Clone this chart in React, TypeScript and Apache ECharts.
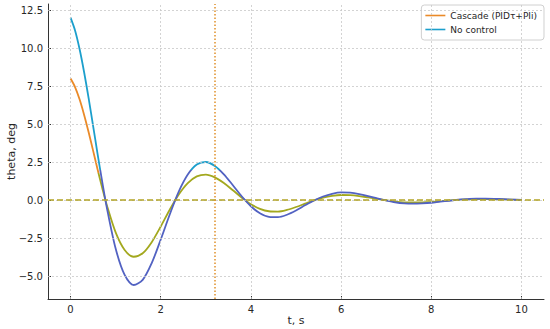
import React, { useEffect, useRef } from "react";
import * as echarts from "echarts";

// time axis (s)
const timeS = [
  0, 0.1, 0.2, 0.3, 0.4, 0.5, 0.6, 0.7, 0.8, 1.0, 1.2, 1.4, 1.6, 1.8, 2.0, 2.2, 2.4, 2.6, 2.8, 3.0, 3.2, 3.4, 3.6, 3.8,
  4.0, 4.2, 4.4, 4.6, 4.8, 5.0, 5.2, 5.4, 5.6, 5.8, 6.0, 6.2, 6.4, 6.6, 6.8, 7.0, 7.2, 7.4, 7.6, 7.8,
  8.0, 8.2, 8.4, 8.6, 8.8, 9.0, 9.2, 9.4, 9.6, 9.8, 10.0,
];

// theta, deg — Cascade (PIDτ+PIi)
const cascade = [
  8.0, 7.44, 6.63, 5.62, 4.48, 3.26, 2.02, 0.83, -0.28, -2.12, -3.28, -3.72, -3.49, -2.76, -1.73, -0.63, 0.37, 1.12, 1.56, 1.68, 1.5, 1.13, 0.65, 0.16,
  -0.27, -0.57, -0.73, -0.75, -0.64, -0.45, -0.23, -0.01, 0.16, 0.28, 0.34, 0.33, 0.27, 0.18, 0.08, -0.01, -0.09, -0.14, -0.15, -0.14,
  -0.11, -0.07, -0.02, 0.02, 0.05, 0.07, 0.07, 0.06, 0.05, 0.03, 0.01,
];

// theta, deg — No control
const noControl = [
  12.0, 11.16, 9.94, 8.43, 6.72, 4.89, 3.03, 1.25, -0.42, -3.18, -4.92, -5.58, -5.24, -4.14, -2.59, -0.94, 0.56, 1.68, 2.34, 2.51, 2.25, 1.7, 0.98, 0.24,
  -0.4, -0.86, -1.1, -1.12, -0.96, -0.68, -0.34, -0.02, 0.24, 0.42, 0.51, 0.49, 0.4, 0.27, 0.12, -0.02, -0.14, -0.21, -0.23, -0.21,
  -0.17, -0.1, -0.04, 0.03, 0.07, 0.1, 0.1, 0.09, 0.07, 0.04, 0.01,
];

const xTicks = [0, 2, 4, 6, 8, 10];
const yTicks = [-5, -2.5, 0, 2.5, 5, 7.5, 10, 12.5];
const zeroLevel = 0;
const markerTime = 3.2;

const seriesNames = ["Cascade (PIDτ+PIi)", "No control"];

const ORANGE = "#ea8a28";
const OLIVE = "#a3a81e";
const CYAN = "#1c9fcc";
const BLUE = "#5262c2";

export default function App() {
  const ref = useRef<HTMLDivElement>(null);

  useEffect(() => {
    if (!ref.current) return;
    const chart = echarts.init(ref.current, undefined, { renderer: "svg" });
    const fmt = (v: number) => v.toFixed(1).replace("-", "\u2212");
    const axisText = { fontFamily: "DejaVu Sans", fontSize: 10, color: "#262626" };
    const nameText = { fontFamily: "DejaVu Sans", fontSize: 11, color: "#262626" };

    chart.setOption({
      animation: false,
      backgroundColor: "#ffffff",
      textStyle: { fontFamily: "DejaVu Sans" },
      grid: { left: 48, right: 6, top: 4, bottom: 30, containLabel: false, outerBoundsMode: "none" },
      legend: {
        right: 6,
        top: 5,
        orient: "vertical",
        icon: "rect",
        itemWidth: 20,
        itemHeight: 1.6,
        itemGap: 5,
        padding: [6, 7, 6, 4],
        backgroundColor: "rgba(255,255,255,0.85)",
        borderColor: "#d0d0d0",
        borderWidth: 1,
        borderRadius: 3,
        textStyle: { fontFamily: "DejaVu Sans", fontSize: 9, color: "#262626" },
        data: [
          { name: seriesNames[0], itemStyle: { color: ORANGE } },
          { name: seriesNames[1], itemStyle: { color: CYAN } },
        ],
      },
      visualMap: [
        {
          type: "piecewise",
          show: false,
          dimension: 1,
          seriesIndex: 1,
          pieces: [
            { gt: 1.8, lte: 30, color: ORANGE },
            { gt: -30, lte: 1.8, color: OLIVE },
          ],
        },
        {
          type: "piecewise",
          show: false,
          dimension: 1,
          seriesIndex: 2,
          pieces: [
            { gt: 2.0, lte: 30, color: CYAN },
            { gt: -30, lte: 2.0, color: BLUE },
          ],
        },
      ],
      xAxis: {
        type: "value",
        min: -0.5,
        max: 10.5,
        minInterval: 2,
        maxInterval: 2,
        name: "t, s",
        nameLocation: "middle",
        nameGap: 16,
        nameMoveOverlap: false,
        nameTextStyle: nameText,
        axisLine: { onZero: false, lineStyle: { color: "#333", width: 1 } },
        axisTick: { inside: true, length: 3, lineStyle: { color: "#333" } },
        axisLabel: { ...axisText, margin: 5, showMinLabel: false, showMaxLabel: false },
        splitLine: { show: false },
      },
      yAxis: {
        type: "value",
        min: -6.5,
        max: 12.9,
        minInterval: 2.5,
        maxInterval: 2.5,
        name: "theta, deg",
        nameLocation: "middle",
        nameGap: 31,
        nameMoveOverlap: false,
        nameTextStyle: nameText,
        axisLine: { onZero: false, lineStyle: { color: "#333", width: 1 } },
        axisTick: { inside: true, length: 3, lineStyle: { color: "#333" } },
        axisLabel: { ...axisText, margin: 5, showMinLabel: false, showMaxLabel: false, formatter: fmt },
        splitLine: { show: false },
      },
      series: [
        {
          type: "line",
          name: "grid",
          z: 1,
          silent: true,
          data: [[0, 0]],
          showSymbol: false,
          lineStyle: { width: 0, opacity: 0 },
          markLine: {
            silent: true,
            symbol: ["none", "none"],
            label: { show: false },
            lineStyle: { color: "#c8c8c8", type: [2, 2], width: 0.8 },
            data: [
              ...xTicks.map((v) => ({ xAxis: v })),
              ...yTicks.map((v) => ({ yAxis: v })),
            ],
          },
        },
        {
          type: "line",
          name: seriesNames[0],
          z: 3,
          data: timeS.map((x, i) => [x, cascade[i]]),
          showSymbol: false,
          smooth: 0.3,
          lineStyle: { width: 1.8 },
        },
        {
          type: "line",
          name: seriesNames[1],
          z: 4,
          data: timeS.map((x, i) => [x, noControl[i]]),
          showSymbol: false,
          smooth: 0.3,
          lineStyle: { width: 1.8 },
        },
        {
          type: "line",
          name: "refs",
          z: 5,
          silent: true,
          data: [[0, 0]],
          showSymbol: false,
          lineStyle: { width: 0, opacity: 0 },
          markLine: {
            silent: true,
            symbol: ["none", "none"],
            label: { show: false },
            data: [
              { yAxis: zeroLevel, lineStyle: { color: "#b3a426", type: [6, 3], width: 1.5 } },
              { xAxis: markerTime, lineStyle: { color: "#e0902a", type: [1.5, 2], width: 1.5 } },
            ],
          },
        },
      ],
    });
    return () => chart.dispose();
  }, []);

  return (
    <div
      ref={ref}
      style={{ position: "fixed", left: 0, top: 0, width: 550, height: 329, background: "#fff" }}
    />
  );
}
